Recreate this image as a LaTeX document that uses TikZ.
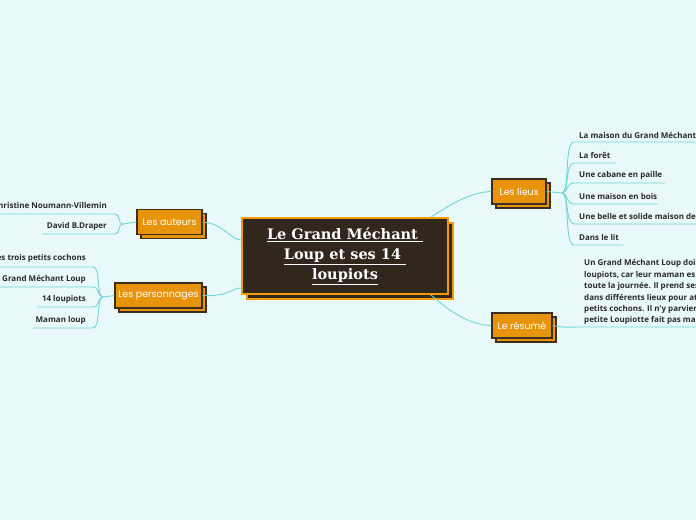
\documentclass[tikz,border=0pt]{standalone}
\usepackage{fontspec}
\usetikzlibrary{shadows}
\newfontfamily\leaffont{Open Sans}[Scale=1.0]
\newfontfamily\branchfontfam{Poppins}
\newfontfamily\titlefontfam{DejaVu Serif}
\definecolor{bgc}{HTML}{E9F8F9}
\definecolor{mainfill}{HTML}{32271C}
\definecolor{mainborder}{HTML}{F39A0B}
\definecolor{branchc}{HTML}{E8930C}
\definecolor{branchborder}{HTML}{3A2E1E}
\definecolor{linec}{HTML}{6FD6D6}
\definecolor{leafc}{HTML}{2A2A2A}
\tikzset{
  leaf/.style={font=\leaffont\bfseries\fontsize{8}{11.4}\selectfont, text=leafc, inner sep=0pt},
  conn/.style={draw=linec, line width=0.9pt},
  uline/.style={draw=linec, line width=0.9pt},
  branch/.style={draw=branchborder, fill=branchc, line width=1.2pt, text=white,
    font=\branchfontfam\fontsize{9.5}{10}\selectfont, minimum height=25pt, inner sep=0pt,
    copy shadow={shadow xshift=4pt, shadow yshift=-4pt}},
  mainbox/.style={draw=mainborder, fill=mainfill, line width=1.5pt, text=white,
    font=\titlefontfam\bfseries\fontsize{14.5}{20}\selectfont, align=center,
    minimum width=206pt, minimum height=76pt, inner sep=0pt,
    copy shadow={shadow xshift=5pt, shadow yshift=-5pt}},
}
\begin{document}
\begin{tikzpicture}[x=1pt,y=-1pt]
\useasboundingbox (0,0) rectangle (696,520);
\fill[bgc] (0,0) rectangle (696,520);
\clip (0,0) rectangle (696,520);

% main node
\node[mainbox] (main) at (345,256) {\underline{Le Grand Méchant }\\\underline{Loup et ses 14 }\\\underline{loupiots}};

% branches
\node[branch, minimum width=65pt] (aut) at (169.5,222) {Les auteurs};
\node[branch, minimum width=87pt] (pers) at (158.5,295.5) {Les personnages};
\node[branch, minimum width=54pt] (lieux) at (519,191.5) {Les lieux};
\node[branch, minimum width=60pt] (res) at (522,325.5) {Le résumé};

% main connectors
\draw[conn] (aut.east) .. controls (225,224) and (230,240) .. (main.west |- 0,240);
\draw[conn] (pers.east) .. controls (228,297) and (232,288) .. (main.west |- 0,288);
\draw[conn] (main.north east) ++(-18,0) coordinate (mlt) .. controls (450,205) and (470,192) .. (lieux.west);
\draw[conn] (main.south east) ++(-18,0) coordinate (mrb) .. controls (450,312) and (470,325) .. (res.west);

% ---- Les auteurs leaves
\coordinate (ja) at (123,224);
\draw[conn] (aut.west) -- (ja);
\node[leaf, anchor=east] (a1) at (107,205) {Christine Noumann-Villemin};
\node[leaf, anchor=east] (a2) at (107,226) {David B.Draper};
\coordinate (a1r) at (115,214); \coordinate (a1l) at (0,214);
\coordinate (a2r) at (115,234); \coordinate (a2l) at (42,234);
\draw[uline] (ja) .. controls (117,224) and (121,214) .. (a1r) -- (a1l);
\draw[uline] (ja) .. controls (117,224) and (121,234) .. (a2r) -- (a2l);

% ---- Les personnages leaves
\coordinate (jp) at (103,297);
\draw[conn] (pers.west) -- (jp);
\node[leaf, anchor=east] (p1) at (86,258) {Les trois petits cochons};
\node[leaf, anchor=east] (p2) at (86,279) {Le Grand Méchant Loup};
\node[leaf, anchor=east] (p3) at (86,299) {14 loupiots};
\node[leaf, anchor=east] (p4) at (86,320) {Maman loup};
\draw[uline] (jp) .. controls (96,297) and (101,267) .. (93,267) -- (0,267);
\draw[uline] (jp) .. controls (97,297) and (100,287) .. (93,287) -- (0,287);
\draw[uline] (jp) .. controls (97,297) and (100,307) .. (93,307) -- (37,307);
\draw[uline] (jp) .. controls (96,297) and (101,328) .. (93,328) -- (33,328);

% ---- Les lieux leaves
\coordinate (jl) at (562,193);
\draw[conn] (lieux.east) -- (jl);
\node[leaf, anchor=west] (l1) at (579,135) {La maison du Grand Méchant};
\node[leaf, anchor=west] (l2) at (579,155) {La forêt};
\node[leaf, anchor=west] (l3) at (579,175) {Une cabane en paille};
\node[leaf, anchor=west] (l4) at (579,196) {Une maison en bois};
\node[leaf, anchor=west] (l5) at (579,216) {Une belle et solide maison de};
\node[leaf, anchor=west] (l6) at (579,237) {Dans le lit};
\draw[uline] (jl) .. controls (570,193) and (564,142) .. (574,142) -- (696,142);
\draw[uline] (jl) .. controls (569,193) and (565,163) .. (574,163) -- (616,163);
\draw[uline] (jl) .. controls (568,193) and (566,183) .. (574,183) -- (665,183);
\draw[uline] (jl) .. controls (568,193) and (566,204) .. (574,204) -- (658,204);
\draw[uline] (jl) .. controls (569,193) and (565,224) .. (574,224) -- (696,224);
\draw[uline] (jl) .. controls (570,193) and (564,245) .. (574,245) -- (623,245);

% ---- Le résumé
\node[leaf, anchor=north west, align=left] (rt) at (584,259.5)
  {Un Grand Méchant Loup doi\\loupiots, car leur maman es\\toute la journée. Il prend ses\\dans différents lieux pour at\\petits cochons. Il n'y parvien\\petite Loupiotte fait pas ma};
\draw[uline] (res.east) .. controls (565,328) and (570,327) .. (580,327) -- (696,327);
\end{tikzpicture}
\end{document}
